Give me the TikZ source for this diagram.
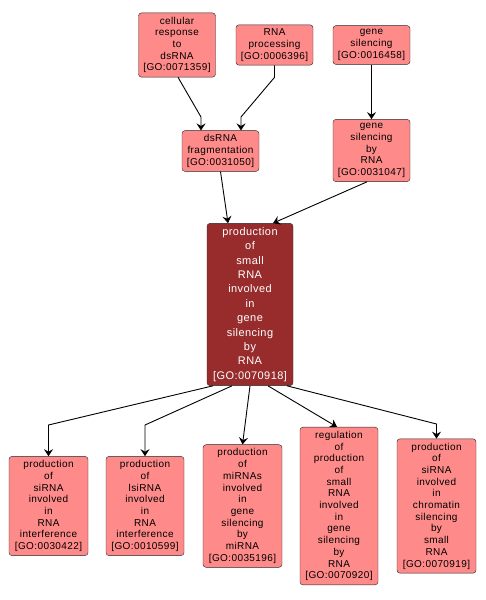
\documentclass[tikz,border=0pt]{standalone}
\usepackage{fontspec}
\usepackage{tikz}
\usetikzlibrary{arrows.meta}
\newfontfamily\gofont[LetterSpace=4]{Liberation Sans}
\definecolor{termfill}{RGB}{255,138,138}
\definecolor{mainfill}{RGB}{152,44,44}
\definecolor{termline}{RGB}{40,40,40}
\tikzset{
    term/.style={draw=termline,fill=termfill,rounded corners=3pt,align=center,
        minimum width=77pt,inner xsep=2pt,inner ysep=4pt,
        font=\gofont\fontsize{10}{11.7}\selectfont},
    mainterm/.style={term,fill=mainfill,text=white,minimum width=86pt,
        font=\gofont\fontsize{11}{14.4}\selectfont},
    edge/.style={draw=black,line width=0.9pt,-{Stealth[length=7pt,width=9pt,inset=2.5pt]}}
}

\begin{document}
\begin{tikzpicture}[x=1pt,y=-1pt]
        \useasboundingbox (0,0) rectangle (485,600);
        % top row
        \node[term] (cell) at (177,45) {cellular\\response\\to\\dsRNA\\{[GO:0071359]}};
        \node[term] (proc) at (274.5,45) {RNA\\processing\\{[GO:0006396]}};
        \node[term] (gsil) at (371.5,45) {gene\\silencing\\{[GO:0016458]}};
        % second row
        \node[term] (frag) at (220.5,151) {dsRNA\\fragmentation\\{[GO:0031050]}};
        \node[term] (gsbr) at (371.5,150.5) {gene\\silencing\\by\\RNA\\{[GO:0031047]}};
        % central term
        \node[mainterm] (main) at (250,304.5) {production\\of\\small\\RNA\\involved\\in\\gene\\silencing\\by\\RNA\\{[GO:0070918]}};
        % children
        \node[term,minimum width=79pt] (sirna) at (48.5,506) {production\\of\\siRNA\\involved\\in\\RNA\\interference\\{[GO:0030422]}};
        \node[term,minimum width=78pt] (lsirna) at (145,506) {production\\of\\lsiRNA\\involved\\in\\RNA\\interference\\{[GO:0010599]}};
        \node[term,minimum width=79pt] (mirna) at (242.5,506) {production\\of\\miRNAs\\involved\\in\\gene\\silencing\\by\\miRNA\\{[GO:0035196]}};
        \node[term,minimum width=78pt] (reg) at (339,506) {regulation\\of\\production\\of\\small\\RNA\\involved\\in\\gene\\silencing\\by\\RNA\\{[GO:0070920]}};
        \node[term,minimum width=79pt] (chrom) at (436.5,506) {production\\of\\siRNA\\involved\\in\\chromatin\\silencing\\by\\small\\RNA\\{[GO:0070919]}};
        % edges
        \draw[edge] ([xshift=1pt]cell.south) -- (201,117) -- ([xshift=-19.5pt]frag.north);
        \draw[edge] (proc.south) -- ++(0,12) -- (241,117) -- ([xshift=20.5pt]frag.north);
        \draw[edge] (gsil.south) -- (gsbr.north);
        \draw[edge] (frag.south) -- ([xshift=-22pt]main.north);
        \draw[edge] ([xshift=-4.5pt]gsbr.south) -- ([xshift=23pt]main.north);
        \draw[edge] ([xshift=-37pt]main.south) -- (48.5,425) -- (sirna.north);
        \draw[edge] ([xshift=-18pt]main.south) -- (145,425) -- (lsirna.north);
        \draw[edge] (main.south) -- (mirna.north);
        \draw[edge] ([xshift=18pt]main.south) -- ([xshift=-2pt]reg.north);
        \draw[edge] ([xshift=37pt]main.south) -- (436.5,424) -- (chrom.north);
    \end{tikzpicture}
\end{document}
